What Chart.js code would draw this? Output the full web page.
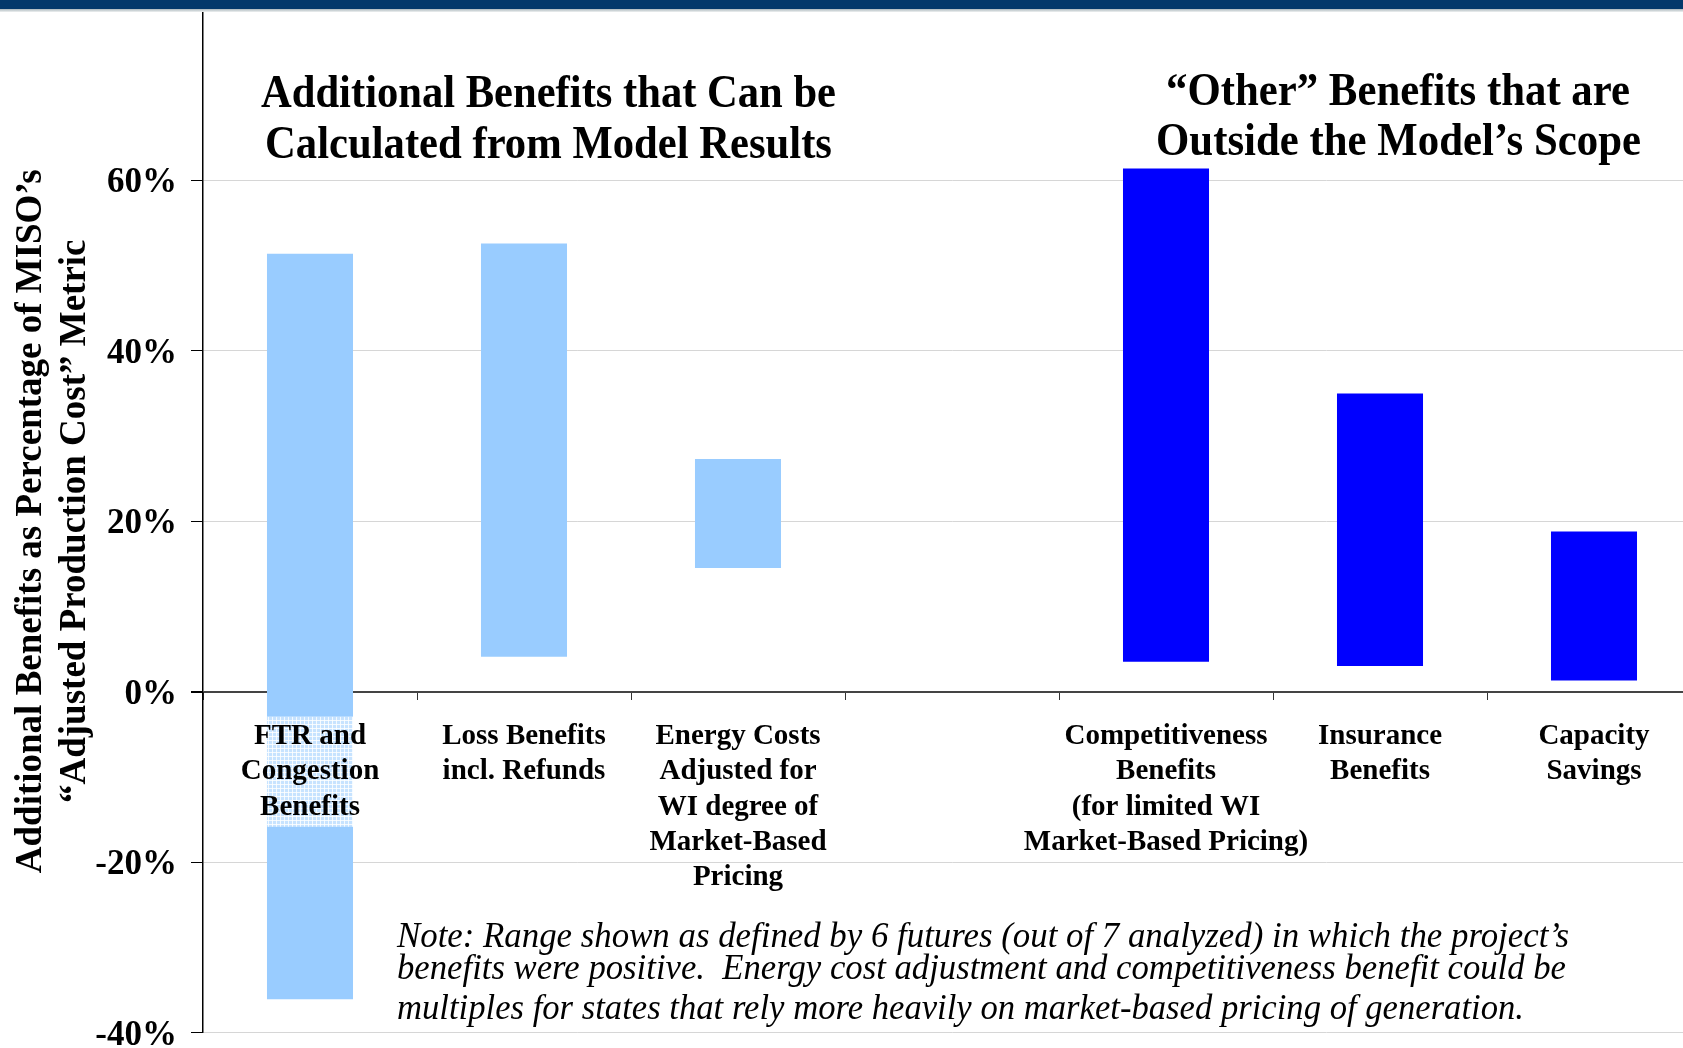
<!DOCTYPE html>
<html>
<head>
<meta charset="utf-8">
<script src="https://cdn.jsdelivr.net/npm/chart.js@4.4.0/dist/chart.umd.min.js"></script>
<style>
  html, body { margin: 0; padding: 0; background: #fff; overflow: hidden; }
  #wrap { position: relative; width: 1683px; height: 1048px; overflow: hidden; }
  #chart { position: absolute; left: 0; top: 0; }
  .topbar { position: absolute; left: 0; top: 0; width: 1683px; height: 9px; background: #03386b; z-index: 2; }
  .topshade { position: absolute; left: 0; top: 9px; width: 1683px; height: 3px; background: linear-gradient(#aab6bc, #eef1f1); z-index: 2; }
  .txt { position: absolute; white-space: pre; line-height: 1; font-family: 'Liberation Serif', 'Times New Roman', serif; color: #000; transform-origin: 0 0; z-index: 3; }
  .head { font-weight: bold; font-size: 47px; }
  .note { font-style: italic; font-size: 36px; }
</style>
</head>
<body>
<div id="wrap">
  <div class="topbar"></div>
  <div class="topshade"></div>
  <canvas id="chart" width="1701" height="1048"></canvas>
</div>
<script>
// categories (the 4th slot is an empty gap between the two groups)
const categories = [
  ['FTR and', 'Congestion', 'Benefits'],
  ['Loss Benefits', 'incl. Refunds'],
  ['Energy Costs', 'Adjusted for', 'WI degree of', 'Market-Based', 'Pricing'],
  '',
  ['Competitiveness', 'Benefits', '(for limited WI', 'Market-Based Pricing)'],
  ['Insurance', 'Benefits'],
  ['Capacity', 'Savings']
];

// range of each benefit, % of adjusted production cost
const lowValues  = [-36.1, 4.1, 14.5, null, 3.5, 3.0, 1.3];
const highValues = [51.4, 52.6, 27.3, null, 61.4, 35.0, 18.8];

const groupColors = ['#99ccff', '#99ccff', '#99ccff', '#99ccff', '#0000ff', '#0000ff', '#0000ff'];

const yTicks = [-40, -20, 0, 20, 40, 60];

const leftTitle = ['Additional Benefits that Can be', 'Calculated from Model Results'];
const rightTitle = ['\u201cOther\u201d Benefits that are', 'Outside the Model\u2019s Scope'];
const noteLines = [
  'Note: Range shown as defined by 6 futures (out of 7 analyzed) in which the project\u2019s',
  'benefits were positive.  Energy cost adjustment and competitiveness benefit could be',
  'multiples for states that rely more heavily on market-based pricing of generation.'
];
const yTitle = ['Additional Benefits as Percentage of MISO\u2019s', '\u201cAdjusted Production Cost\u201d Metric'];

Chart.defaults.font.family = "'Liberation Serif', 'Times New Roman', serif";
Chart.defaults.color = '#000';

// light mesh behind the first label, visible where it crosses the FTR bar
function meshPattern(g0) {
  const c = document.createElement('canvas');
  c.width = 4; c.height = 4;
  const g = c.getContext('2d');
  g.fillStyle = 'rgba(255,255,255,0.45)';
  g.fillRect(0, 0, 4, 4);
  g.fillStyle = 'rgba(255,255,255,0.8)';
  g.fillRect(0, 0, 4, 1);
  g.fillRect(0, 0, 1, 4);
  return g0.createPattern(c, 'repeat');
}

const labelMesh = {
  id: 'labelMesh',
  afterDatasetsDraw(chart) {
    const bar = chart.getDatasetMeta(0).data[0];
    const xs = chart.scales.x;
    const o = xs.options;
    const lh = o.ticks.font.size * o.ticks.font.lineHeight;
    const top = chart.scales.y.getPixelForValue(0) + o.grid.tickLength + o.ticks.padding - 2;
    const h = categories[0].length * lh + 4;
    const c = chart.ctx;
    c.save();
    c.fillStyle = meshPattern(c);
    c.fillRect(bar.x - bar.width / 2, top, bar.width, h);
    c.restore();
  }
};

const data = categories.map((c, i) => lowValues[i] === null ? null : [lowValues[i], highValues[i]]);

const ctx = document.getElementById('chart').getContext('2d');
new Chart(ctx, {
  type: 'bar',
  data: {
    labels: categories,
    datasets: [{
      data: data,
      backgroundColor: groupColors,
      borderWidth: 0,
      categoryPercentage: 1,
      barPercentage: 0.402
    }]
  },
  plugins: [labelMesh],
  options: {
    responsive: false,
    animation: false,
    devicePixelRatio: 1,
    layout: { padding: { top: 10, bottom: 15.5, left: 0, right: 0 } },
    plugins: { legend: { display: false }, tooltip: { enabled: false } },
    scales: {
      x: {
        position: { y: 0 },
        offset: true,
        border: { display: false },
        grid: { drawOnChartArea: false, drawTicks: true, tickLength: 8, tickColor: '#333', offset: true },
        ticks: {
          z: 1,
          autoSkip: false,
          maxRotation: 0,
          padding: 19,
          color: '#000',
          font: { size: 29, weight: 'bold', lineHeight: 1.22 }
        }
      },
      y: {
        min: -40,
        max: 80,
        afterFit: (scale) => {
          scale.width = 203;
          scale.paddingTop = 0;
          scale.paddingBottom = 0;
        },
        border: { display: true, color: '#000', width: 1.5 },
        grid: {
          color: (c) => c.tick && c.tick.value === 0 ? '#444' : '#d6d6d6',
          lineWidth: (c) => c.tick && c.tick.value === 0 ? 2 : 1,
          tickColor: '#000',
          tickLength: 12
        },
        afterBuildTicks: (scale) => { scale.ticks = yTicks.concat([80]).map(v => ({ value: v })); },
        ticks: {
          padding: 14,
          labelOffset: 3,
          color: '#000',
          font: { size: 35, weight: 'bold', lineHeight: 1.2 },
          callback: (v) => yTicks.includes(v) ? v + '%' : null
        },
        title: {
          display: true,
          text: yTitle,
          color: '#000',
          font: { size: 37, weight: 'bold', lineHeight: 1.19 },
          padding: { top: 9, bottom: 0 }
        }
      }
    }
  }
});

// headings and note, each line squeezed to the width it has in the original
function placeLines(lines, cls, fontSize, spec) {
  const wrap = document.getElementById('wrap');
  lines.forEach((t, i) => {
    const s = spec[i];
    const el = document.createElement('div');
    el.className = 'txt ' + cls;
    el.textContent = t;
    wrap.appendChild(el);
    const natural = el.getBoundingClientRect().width;
    const k = s.width / natural;
    el.style.left = (s.center !== undefined ? s.center - s.width / 2 : s.left) + 'px';
    el.style.top = (s.baseline - 0.8375 * fontSize) + 'px';
    el.style.transform = 'scaleX(' + k.toFixed(4) + ')';
  });
}

placeLines(leftTitle, 'head', 47, [
  { center: 548, width: 575, baseline: 107 },
  { center: 548, width: 567, baseline: 158 }
]);
placeLines(rightTitle, 'head', 47, [
  { center: 1398, width: 464, baseline: 105 },
  { center: 1398, width: 485, baseline: 155 }
]);
placeLines(noteLines, 'note', 36, [
  { left: 397, width: 1172, baseline: 947 },
  { left: 397, width: 1169, baseline: 979 },
  { left: 397, width: 1127, baseline: 1019 }
]);
</script>
</body>
</html>
